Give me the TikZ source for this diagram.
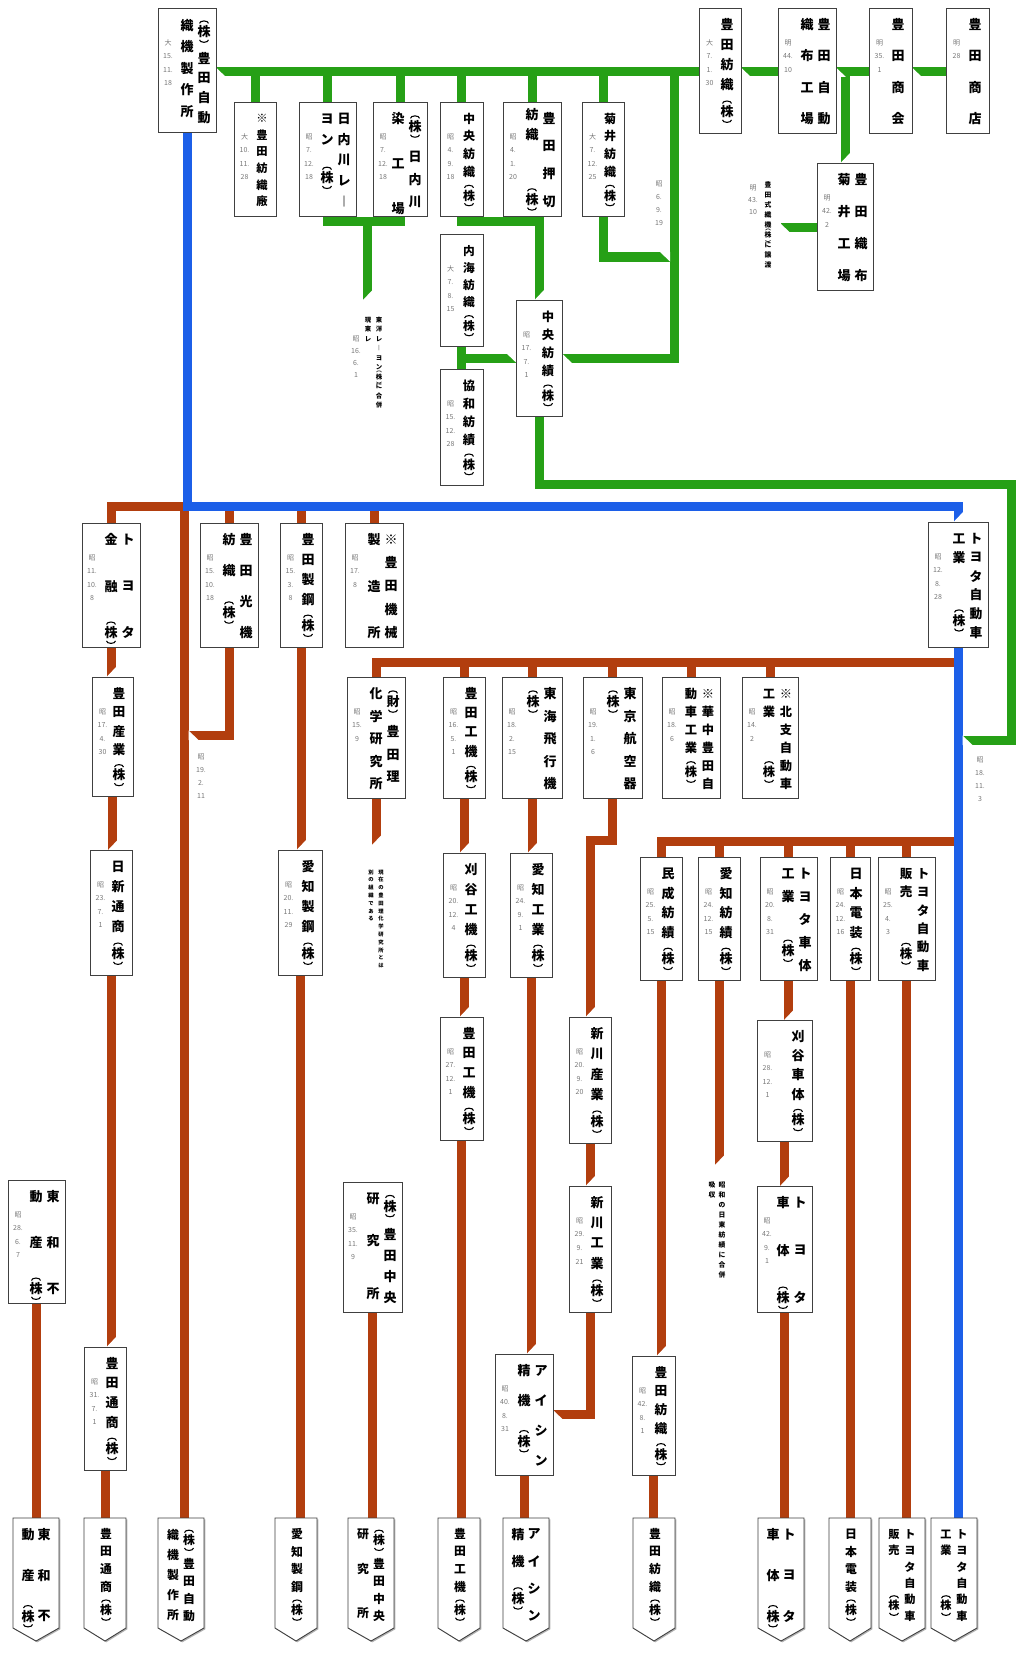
\documentclass[tikz,border=0pt]{standalone}
\usepackage{fontspec}
\newfontfamily\jp{Noto Sans CJK JP}
\usetikzlibrary{shadows}
\pgfdeclarelayer{bg}
\pgfsetlayers{bg,main}
\definecolor{gcol}{RGB}{38,160,22}
\definecolor{bcol}{RGB}{28,95,232}
\definecolor{rcol}{RGB}{178,62,14}
\definecolor{dcol}{RGB}{120,120,120}
\newdimen\Pd
\def\arcr{4.5}
\newcommand\arcU{\tikz[x=1pt,y=1pt]\draw[line width={0.24pt*\arcr}] (-\arcr,0) arc[start angle=180,end angle=0,x radius=\arcr,y radius={0.55*\arcr}];}
\newcommand\arcD{\tikz[x=1pt,y=1pt]\draw[line width={0.24pt*\arcr}] (-\arcr,0) arc[start angle=180,end angle=360,x radius=\arcr,y radius={0.55*\arcr}];}
\newcommand\Cell[1]{\hbox to 0pt{\hss\vbox to\Pd{\vss\hbox{#1}\vss}\hss}}
\newcommand\KbIn[1]{\hbox to 0pt{\hss\arcU\hss}\kern1.5pt\hbox to 0pt{\hss #1\hss}\kern1.5pt\hbox to 0pt{\hss\arcD\hss}}
\newcommand\Kb{\hbox to 0pt{\hss\vbox to 1.7\Pd{\vss\KbIn{株}\vss}\hss}}
\newcommand\Kc{\hbox to 0pt{\hss\vbox to \Pd{\vss\KbIn{株}\vss}\hss}}
\newcommand\Kz{\hbox to 0pt{\hss\vbox to 1.7\Pd{\vss\KbIn{財}\vss}\hss}}
\def\Bl{\relax}
\def\Bh{\relax\relax}
\def\Vitem#1{\ifx\Kb#1\Kb\else\ifx\Kc#1\Kc\else\ifx\Kz#1\Kz\else\ifx\Bh#1\vskip.5\Pd\else\Cell{#1}\fi\fi\fi\fi}
\def\Vloop#1{\ifx\relax#1\else\Vitem{#1}\expandafter\Vloop\fi}
\newcommand\V[1]{\Vloop#1\relax}
\newcommand\VC[2]{\vbox{\offinterlineskip\Pd=#1pt\relax#2}}
\newcommand\df{\jp\fontsize{7}{7}\selectfont}
\tikzset{
 bx/.style={draw=black!75, line width=0.9pt, fill=white, inner sep=0pt,
   drop shadow={shadow xshift=1.3pt, shadow yshift=-1.3pt, fill=black!60}},
 col/.style={anchor=north, inner sep=0pt, font={\jp\bfseries\fontsize{\FS}{\FS}\selectfont}},
 dat/.style={anchor=north, inner sep=0pt, font=\df, text=dcol},
 ann/.style={anchor=north, inner sep=0pt, font={\jp\bfseries\fontsize{#1}{#1}\selectfont}},
 gline/.style={draw=gcol, line width=9pt},
 bline/.style={draw=bcol, line width=9pt},
 rline/.style={draw=rcol, line width=9pt},
}
% bevelled line ends (white wedges on the connector layer)
\newcommand\bevS[1]{\fill[white] #1 ++(5,-9.5) -- ++(0,10) -- ++(-9.5,0) -- cycle;}
\newcommand\bevW[1]{\fill[white] #1 ++(-0.5,-4.5) -- ++(0,9.5) -- ++(10,0) -- cycle;}
\newcommand\bevE[1]{\fill[white] #1 ++(0.5,4.5) -- ++(0,-9.5) -- ++(-10,0) -- cycle;}
% one main column + date
\newcommand\bxone[8]{%
 \node[bx,minimum width={(#4-#2)*1pt},minimum height={(#5-#3)*1pt}] (#1) at ({(#2+#4)/2},{(#3+#5)/2}) {};
 \pgfmathsetmacro\PP{(#5-#3-31)/(#6-1)}%
 \pgfmathsetmacro\FS{min(13,\PP/1.47)}%
 \pgfmathsetmacro\YT{(#3+#5)/2+1-#6*\PP/2}%
 \node[col] (#1t) at ({#4-14},\YT) {\VC{\PP}{\V{#7}}};
 \node[dat] (#1d) at ({#2+10.5},{#3+28}) {\VC{13.5}{\V{#8}}};
}
% two main columns + date
\newcommand\bxtwo[9]{%
 \node[bx,minimum width={(#4-#2)*1pt},minimum height={(#5-#3)*1pt}] (#1) at ({(#2+#4)/2},{(#3+#5)/2}) {};
 \pgfmathsetmacro\PP{(#5-#3-31)/(#6-1)}%
 \pgfmathsetmacro\FS{min(13,\PP/1.47)}%
 \pgfmathsetmacro\YT{(#3+#5)/2+1-#6*\PP/2}%
 \node[col] (#1t) at ({#4-12},\YT) {\VC{\PP}{\V{#7}}};
 \node[col] (#1u) at ({#4-29},\YT) {\VC{\PP}{#8}};
 \node[dat] (#1d) at ({#2+10},{#3+28}) {\VC{13.5}{\V{#9}}};
}
% bottom boxes (pointed)
\newcommand\botone[4]{%
 \coordinate (#1) at (#2,1518);
 \path[bx] ({#2-21},1518) -- ({#2+21},1518) -- ({#2+21},1628) -- (#2,1641) -- ({#2-21},1628) -- cycle;
 \pgfmathsetmacro\PP{(113-31)/(#3-1)}%
 \pgfmathsetmacro\FS{min(13,\PP/1.47)}%
 \pgfmathsetmacro\YT{1575-#3*\PP/2}%
 \node[col] (#1t) at ({#2+1},\YT) {\VC{\PP}{\V{#4}}};
}
\newcommand\bottwo[5]{%
 \coordinate (#1) at (#2,1518);
 \path[bx] ({#2-23},1518) -- ({#2+23},1518) -- ({#2+23},1628) -- (#2,1641) -- ({#2-23},1628) -- cycle;
 \pgfmathsetmacro\PP{(113-31)/(#3-1)}%
 \pgfmathsetmacro\FS{min(13,\PP/1.47)}%
 \pgfmathsetmacro\YT{1575-#3*\PP/2}%
 \node[col] (#1t) at ({#2+8},\YT) {\VC{\PP}{\V{#4}}};
 \node[col] (#1u) at ({#2-8},\YT) {\VC{\PP}{#5}};
}
\begin{document}
\begin{tikzpicture}[x=1pt,y=-1pt]
\useasboundingbox (0,0) rectangle (1017,1653);
% ---------- boxes ----------
\bxtwo{A}{158}{8}{216}{132}{5.7}{\Kb 豊田自動}{\Pd=21.5pt\relax\V{織機製作所}}{大{15.}{11.}{18}}
\bxone{B}{234}{102}{276}{216}{6}{※豊田紡織廠}{大{10.}{11.}{28}}
\bxtwo{C}{299}{102}{356}{216}{5}{日内川レ︱}{\V{ヨン\Bh\Kb}}{昭{7.}{12.}{18}}
\bxtwo{D}{373}{102}{427}{216}{4.7}{\Kb 日内川}{\V{染\Bl 工\Bl 場}}{昭{7.}{12.}{18}}
\bxone{E}{440}{102}{483}{216}{5.7}{中央紡織\Kb}{昭{4.}{9.}{18}}
\bxtwo{F}{503}{102}{561}{216}{4}{豊田押切}{\Pd=19.5pt\relax\V{紡織\Bl\Bl\Kb}}{昭{4.}{1.}{20}}
\bxone{G}{582}{102}{624}{216}{5.7}{菊井紡織\Kb}{大{7.}{12.}{25}}
\bxone{H}{699}{8}{741}{133}{5.7}{豊田紡織\Kb}{大{7.}{1.}{30}}
\bxtwo{I}{778}{8}{836}{133}{4}{豊田自動}{\V{織布工場}}{明{44.}{10}}
\bxone{J}{869}{8}{912}{133}{4}{豊田商会}{明{35.}{1}}
\bxone{K}{946}{8}{989}{133}{4}{豊田商店}{明{28}}
\bxtwo{L}{817}{163}{873}{290}{4}{豊田織布}{\V{菊井工場}}{明{42.}{2}}
\bxone{M}{440}{234}{483}{346}{5.7}{内海紡織\Kb}{大{7.}{8.}{15}}
\bxone{N}{516}{300}{562}{416}{5.7}{中央紡績\Kb}{昭{17.}{7.}{1}}
\bxone{O}{440}{369}{483}{485}{5.7}{協和紡績\Kb}{昭{15.}{12.}{28}}
% under blue
\bxtwo{P}{82}{523}{140}{647}{3}{トヨタ}{\V{金融\Kc}}{昭{11.}{10.}{8}}
\bxtwo{Q}{200}{523}{258}{647}{4}{豊田光機}{\V{紡織\Kb}}{昭{15.}{10.}{18}}
\bxone{R}{280}{523}{322}{647}{5.7}{豊田製鋼\Kb}{昭{15.}{3.}{8}}
\bxtwo{S}{345}{523}{403}{647}{5}{※豊田機械}{\V{製\Bl 造\Bl 所}}{昭{17.}{8}}
\bxtwo{T}{928}{522}{988}{647}{6}{トヨタ自動車}{\V{工業\Bl\Bl\Kb}}{昭{12.}{8.}{28}}
% row 2
\bxone{U}{92}{677}{133}{796}{5.7}{豊田産業\Kb}{昭{17.}{4.}{30}}
\bxtwo{V}{347}{677}{405}{798}{5}{\Kz 豊田理}{\V{化学研究所}}{昭{15.}{9}}
\bxone{W}{443}{677}{485}{798}{5.7}{豊田工機\Kb}{昭{16.}{5.}{1}}
\bxtwo{X}{502}{677}{562}{798}{5}{東海飛行機}{\V{\Kb}}{昭{18.}{2.}{15}}
\bxtwo{Y}{583}{677}{642}{798}{5}{東京航空器}{\V{\Kb}}{昭{19.}{1.}{6}}
\bxtwo{Z}{662}{677}{720}{798}{6}{※華中豊田自}{\V{動車工業\Kb}}{昭{18.}{6}}
\bxtwo{AA}{742}{677}{798}{798}{6}{※北支自動車}{\V{工業\Bl\Bl\Kb}}{昭{14.}{2}}
% row 3
\bxone{BB}{640}{857}{682}{980}{5.7}{民成紡績\Kb}{昭{25.}{5.}{15}}
\bxone{CC}{698}{857}{740}{980}{5.7}{愛知紡績\Kb}{昭{24.}{12.}{15}}
\bxtwo{DD}{760}{857}{817}{980}{5}{トヨタ車体}{\V{工業\Bl\Kb}}{昭{20.}{8.}{31}}
\bxone{EE}{830}{857}{870}{980}{5.7}{日本電装\Kb}{昭{24.}{12.}{16}}
\bxtwo{FF}{878}{857}{935}{980}{6}{トヨタ自動車}{\V{販売\Bl\Bl\Kb}}{昭{25.}{4.}{3}}
% row 4
\bxone{U2}{90}{850}{132}{975}{5.7}{日新通商\Kb}{昭{23.}{7.}{1}}
\bxone{R2}{278}{850}{322}{975}{5.7}{愛知製鋼\Kb}{昭{20.}{11.}{29}}
\bxone{W2}{443}{853}{485}{977}{5.7}{刈谷工機\Kb}{昭{20.}{12.}{4}}
\bxone{X2}{510}{853}{552}{977}{5.7}{愛知工業\Kb}{昭{24.}{9.}{1}}
% row 5
\bxone{W3}{440}{1017}{483}{1140}{5.7}{豊田工機\Kb}{昭{27.}{12.}{1}}
\bxone{Y2}{569}{1017}{611}{1143}{5.7}{新川産業\Kb}{昭{20.}{9.}{20}}
\bxone{DD2}{757}{1020}{812}{1141}{5.7}{刈谷車体\Kb}{昭{28.}{12.}{1}}
% row 6
\bxtwo{CR}{343}{1182}{402}{1312}{5.7}{\Kb 豊田中央}{\V{研\Bl 究\Bh\Bl 所}}{昭{35.}{11.}{9}}
\bxone{Y3}{569}{1186}{611}{1312}{5.7}{新川工業\Kb}{昭{29.}{9.}{21}}
\bxtwo{DD3}{757}{1186}{812}{1312}{3}{トヨタ}{\V{車体\Kc}}{昭{42.}{9.}{1}}
\bxtwo{TW}{8}{1180}{65}{1303}{3}{東和不}{\V{動産\Kc}}{昭{28.}{6.}{7}}
% row 7
\bxone{U3}{84}{1347}{126}{1470}{5.7}{豊田通商\Kb}{昭{31.}{7.}{1}}
\bxtwo{X3}{495}{1354}{553}{1475}{4}{アイシン}{\V{精機\Kb}}{昭{40.}{8.}{31}}
\bxone{BB2}{632}{1356}{675}{1475}{5.7}{豊田紡織\Kb}{昭{42.}{8.}{1}}
% bottom row
\bottwo{bTW}{36}{3}{東和不}{\V{動産\Kc}}
\botone{bU}{105}{5.7}{豊田通商\Kb}
\bottwo{bA}{181}{5.7}{\Kb 豊田自動}{\Pd=19.9pt\relax\V{織機製作所}}
\botone{bR}{296}{5.7}{愛知製鋼\Kb}
\bottwo{bCR}{371}{5.7}{\Kb 豊田中央}{\V{研\Bl 究\Bh\Bl 所}}
\botone{bW}{459}{5.7}{豊田工機\Kb}
\bottwo{bX}{526}{4}{アイシン}{\V{精機\Kb}}
\botone{bBB}{654}{5.7}{豊田紡織\Kb}
\bottwo{bDD}{781}{3}{トヨタ}{\V{車体\Kc}}
\botone{bEE}{850}{5.7}{日本電装\Kb}
\bottwo{bFF}{902}{6}{トヨタ自動車}{\V{販売\Bl\Bl\Kb}}
\bottwo{bT}{954}{6}{トヨタ自動車}{\V{工業\Bl\Bl\Kb}}
% ---------- annotations ----------
\node[ann=6.4] (n1) at (379,315) {\def\arcr{2.4}\VC{9.5}{\V{東洋レ︱ヨン\Kc に合併}}};
\node[ann=6.4] (n1b) at (368,315) {\VC{9.5}{\V{現東レ}}};
\node[dat] (n1d) at (356,333) {\VC{12}{\V{昭{16.}{6.}{1}}}};
\node[ann=6.8] (n2) at (768,180) {\def\arcr{2.4}\VC{10}{\V{豊田式織機\Kc に譲渡}}};
\node[dat] (n2d) at (753,182) {\VC{12}{\V{明{43.}{10}}}};
\node[ann=5.3] (n3) at (381,868) {\VC{7.8}{\V{現在の豊田理化学研究所とは}}};
\node[ann=5.3] (n3b) at (371,868) {\VC{7.8}{\V{別の組織である}}};
\node[ann=6.8] (n4) at (722,1180) {\VC{10}{\V{昭和の日東紡績に合併}}};
\node[ann=6.8] (n4b) at (712,1180) {\VC{10}{\V{吸収}}};
\node[dat] (l1) at (659,177) {\VC{13}{\V{昭{6.}{9.}{19}}}};
\node[dat] (l2) at (980,753) {\VC{13}{\V{昭{18.}{11.}{3}}}};
\node[dat] (l3) at (201,750) {\VC{13}{\V{昭{19.}{2.}{11}}}};
% ---------- connectors ----------
\begin{pgfonlayer}{bg}
\fill[white] (0,0) rectangle (1017,1653);
% brown
\coordinate (tr) at (184,506);
\draw[rline] (tr) -- (tr |- bA);
\draw[rline] (tr) -| (P.north);
\foreach \n in {Q,R,S} \draw[rline] (\n.north |- tr) -- (\n.north);
\coordinate (qy) at (0,735);
\coordinate (qe) at (189,735);
\draw[rline] (Q.south) |- (tr |- qy);
\draw[rline] (P.south) -- (P.south |- U.north);
\draw[rline] (U.south) -- (U.south |- U2.north);
\draw[rline] (U2.south) -- (U2.south |- U3.north);
\draw[rline] (U3.south) -- (U3.south |- bU);
\draw[rline] (TW.south) -- (TW.south |- bTW);
\draw[rline] (R.south) -- (R.south |- R2.north);
\draw[rline] (R2.south) -- (R2.south |- bR);
\coordinate (b2) at (958,662);
\draw[rline] (b2) -| (V.north);
\foreach \n in {W,X,Y,Z,AA} \draw[rline] (\n.north |- b2) -- (\n.north);
\coordinate (vy) at (0,845);
\draw[rline] (V.south) -- (V.south |- vy);
\draw[rline] (W.south) -- (W.south |- W2.north);
\draw[rline] (W2.south) -- (W2.south |- W3.north);
\draw[rline] (W3.south) -- (W3.south |- bW);
\draw[rline] (X.south) -- (X.south |- X2.north);
\draw[rline] (X2.south) -- (X2.south |- X3.north);
\draw[rline] (X3.south) -- (X3.south |- bX);
\coordinate (yy) at (0,840);
\draw[rline] (Y.south) |- (Y2.north |- yy) -- (Y2.north);
\draw[rline] (Y2.south) -- (Y2.south |- Y3.north);
\draw[rline] (Y3.south) |- (X3.east);
\draw[rline] (CR.south) -- (CR.south |- bCR);
\coordinate (b3) at (958,841);
\draw[rline] (b3) -| (BB.north);
\foreach \n in {CC,DD,EE,FF} \draw[rline] (\n.north |- b3) -- (\n.north);
\draw[rline] (BB.south) -- (BB.south |- BB2.north);
\draw[rline] (BB2.south) -- (BB2.south |- bBB);
\coordinate (ccy) at (0,1165);
\draw[rline] (CC.south) -- (CC.south |- ccy);
\draw[rline] (DD.south) -- (DD.south |- DD2.north);
\draw[rline] (DD2.south) -- (DD2.south |- DD3.north);
\draw[rline] (DD3.south) -- (DD3.south |- bDD);
\draw[rline] (EE.south) -- (EE.south |- bEE);
\draw[rline] (FF.south) -- (FF.south |- bFF);
% green
\coordinate (gy) at (0,72);
\draw[gline] (A.east |- gy) -- (K.west |- gy);
\foreach \n in {B,C,D,E,F,G} \draw[gline] (\n.north |- gy) -- (\n.north);
\draw[gline] (L.north |- gy) -- (L.north);
\coordinate (la) at (781,228);
\draw[gline] (L.west |- la) -- (la);
\coordinate (cdy) at (0,222);
\coordinate (cdj) at (367,222);
\coordinate (cde) at (367,300);
\draw[gline] (C.south) |- (cdj) -| (D.south);
\draw[gline] (cdj) -- (cde);
\draw[gline] (E.south) |- (N.north |- cdy) -- (N.north);
\draw[gline] (F.south) -- (F.south |- cdy);
\coordinate (rv) at (674,0);
\draw[gline] (rv |- gy) |- (N.east);
\coordinate (gk) at (0,257);
\coordinate (gke) at (669.5,257);
\draw[gline] (G.south) |- (rv |- gk);
\draw[gline] (M.south) -- (O.north);
\draw[gline] (M.south |- N.west) -- (N.west);
\coordinate (g1) at (1011,484);
\coordinate (g2) at (1011,740);
\coordinate (g3) at (962,740);
\coordinate (g3e) at (963,740);
\draw[gline] (N.south) |- (g1) -- (g2) -- (g3);
% blue
\coordinate (by) at (0,506);
\draw[bline] (A.south) |- (T.north |- by) -- (T.north);
\draw[bline] (T.south) -- (T.south |- bT);
% bevelled ends
\bevW{(A.east |- gy)} \bevW{(H.east |- gy)} \bevW{(I.east |- gy)} \bevW{(J.east |- gy)}
\bevW{(la)} \bevS{(cde)} \bevS{(N.north)} \bevW{(N.east)} \bevE{(gke)}
\bevE{(N.west)} \bevS{(L.north)} \bevW{(g3e)} \bevS{(T.north)}
\bevW{(qe)}
\bevS{(P.south |- U.north)} \bevS{(U.south |- U2.north)} \bevS{(U2.south |- U3.north)}
\bevS{(R.south |- R2.north)} \bevS{(W.south |- W2.north)} \bevS{(W2.south |- W3.north)}
\bevS{(X.south |- X2.north)} \bevS{(X2.south |- X3.north)} \bevS{(Y2.north)}
\bevS{(Y2.south |- Y3.north)} \bevW{(X3.east)} \bevS{(BB.south |- BB2.north)}
\bevS{(DD.south |- DD2.north)} \bevS{(DD2.south |- DD3.north)} \bevS{(CC.south |- ccy)}
\bevS{(V.south |- vy)}
\end{pgfonlayer}
\end{tikzpicture}
\end{document}
